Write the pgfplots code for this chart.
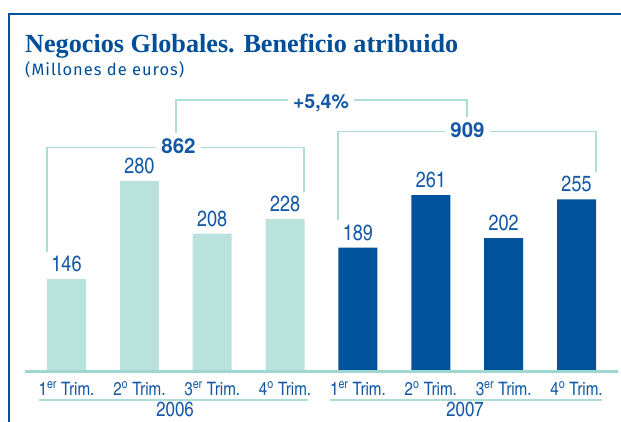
\documentclass[border=0pt]{standalone}
\usepackage{fontspec}
\usepackage{pgfplots}
\pgfplotsset{compat=1.18}
\newfontfamily\cnd{texgyreheroscn-regular.otf}[BoldFont=texgyreheroscn-bold.otf]
\newfontfamily\hvb{texgyreheros-bold.otf}
\newfontfamily\sub{Fira Sans}[LetterSpace=6]
\newfontfamily\ttl{Liberation Serif}
\definecolor{barlight}{RGB}{185,226,221}
\definecolor{bardark}{RGB}{0,82,155}
\definecolor{txtblue}{RGB}{20,88,165}
\definecolor{ttlblue}{RGB}{0,78,152}
\definecolor{brk}{RGB}{172,221,215}
\definecolor{axline}{RGB}{160,214,208}
\definecolor{framec}{RGB}{0,82,160}

\begin{document}
\begin{tikzpicture}
\begin{axis}[
  at={(25pt,-370pt)}, anchor=south west,
  scale only axis, width=593pt, height=200pt,
  xmin=-0.5696, xmax=7.569, ymin=21.6, ymax=295.2,
  axis line style={draw=none},
  ytick=\empty,
  xtick={0,...,7},
  xticklabels={{1\textsuperscript{er} Trim.},{2\textsuperscript{o} Trim.},{3\textsuperscript{er} Trim.},{4\textsuperscript{o} Trim.},
               {1\textsuperscript{er} Trim.},{2\textsuperscript{o} Trim.},{3\textsuperscript{er} Trim.},{4\textsuperscript{o} Trim.}},
  major tick length=0pt,
  x tick label style={font=\cnd\fontsize{18.5}{20}\selectfont, text=txtblue, anchor=base, yshift=-25pt},
  /pgf/number format/assume math mode=true,
  clip=false,
  ybar, bar width=39pt,
  nodes near coords,
  nodes near coords style={font=\cnd\fontsize{22}{24}\selectfont, text=txtblue, anchor=south, inner sep=0pt, yshift=7pt},
]
% 2006
\addplot[fill=barlight, draw=none, bar shift=0pt]
  coordinates {(0,146)(1,280)(2,208)(3,228)};
% 2007
\addplot[fill=bardark, draw=none, bar shift=0pt]
  coordinates {(4,189)(5,261)(6,202)(7,255)};
\end{axis}

\begin{scope}[x=1pt,y=-1pt]
\path[use as bounding box] (0,0) rectangle (621,421);
% frame
\draw[framec, line width=2pt] (9.3,425) -- (9.3,13.7) -- (625,13.7);
% title
\node[anchor=base west, inner sep=0pt, text=ttlblue, font=\ttl\bfseries\fontsize{26.2}{30}\selectfont] at (25,52.7) {Negocios Globales. Beneficio atribuido};
\node[anchor=base west, inner sep=0pt, text=ttlblue, font=\sub\fontsize{16.5}{18}\selectfont] at (25,75) {(Millones de euros)};
% baseline and year groups
\draw[axline, line width=3.3pt] (25,371.7) -- (618,371.7);
\draw[brk, line width=1.5pt] (39,400) -- (308,400);
\draw[brk, line width=1.5pt] (330,400) -- (602,400);
\node[anchor=base, inner sep=0pt, text=txtblue, font=\cnd\fontsize{20.5}{22}\selectfont] at (175,416) {2006};
\node[anchor=base, inner sep=0pt, text=txtblue, font=\cnd\fontsize{20.5}{22}\selectfont] at (465,416) {2007};
% brackets
\draw[brk, line width=1.3pt] (47,252) -- (47,147.3) -- (304,147.3) -- (304,192);
\draw[brk, line width=1.3pt] (338,220) -- (338,131.7) -- (596,131.7) -- (596,172);
\draw[brk, line width=1.3pt] (176,133) -- (176,100) -- (467,100) -- (467,117);
\node[anchor=base, fill=white, inner xsep=5pt, inner ysep=1pt, text=txtblue, font=\hvb\fontsize{20.5}{24}\selectfont] at (178.5,153) {862};
\node[anchor=base, fill=white, inner xsep=5pt, inner ysep=1pt, text=txtblue, font=\hvb\fontsize{20.5}{24}\selectfont] at (467.5,137) {909};
\node[anchor=base, fill=white, inner xsep=5pt, inner ysep=1pt, text=txtblue, font=\hvb\fontsize{19.5}{22}\selectfont] at (321,108) {+5,4\%};
\end{scope}
\end{tikzpicture}
\end{document}
